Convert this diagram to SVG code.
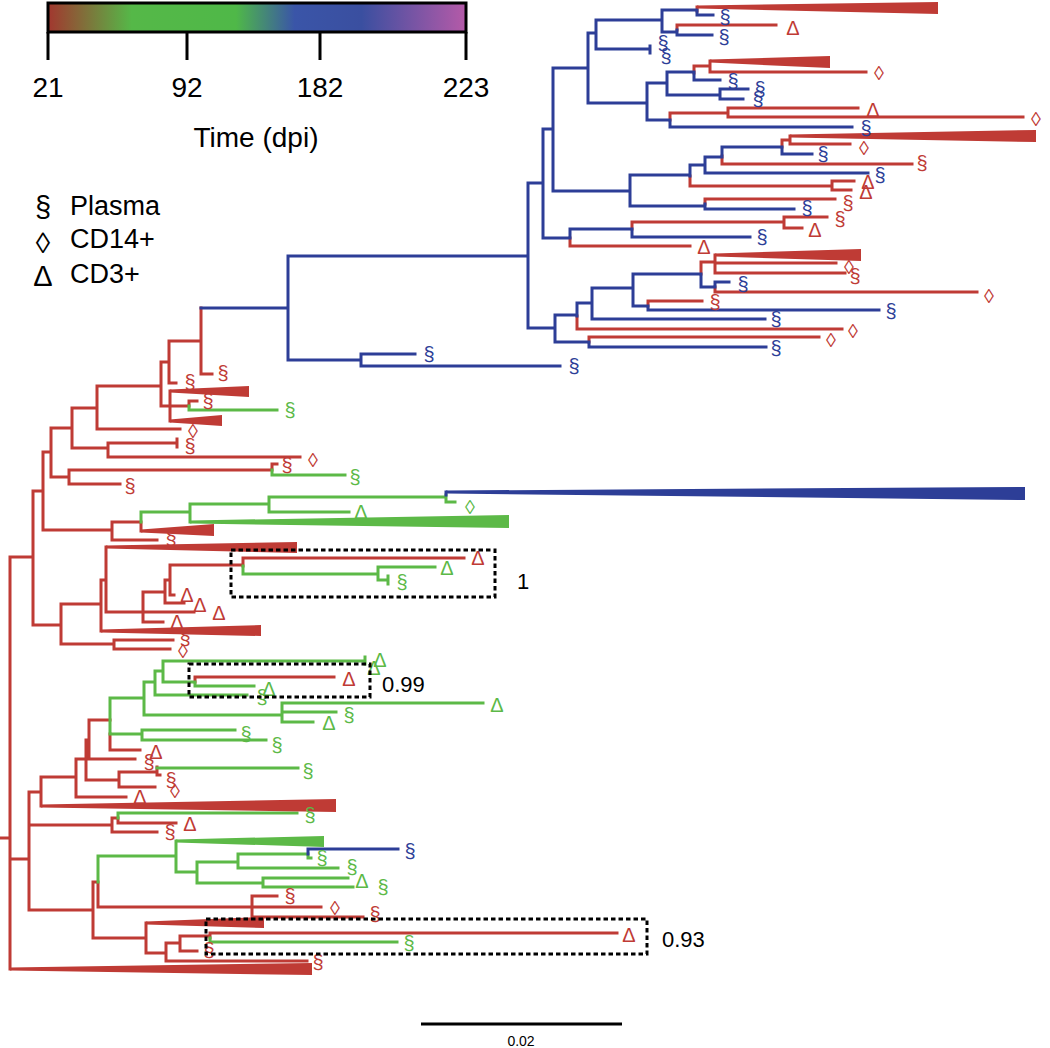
<svg xmlns="http://www.w3.org/2000/svg" width="1050" height="1048" viewBox="0 0 1050 1048">
<style>
.br{fill:none;stroke-width:3;stroke-linecap:square}
.r{stroke:#bf3b35}.g{stroke:#5cb947}.b{stroke:#2d3e97}
.fr{fill:#bf3b35}.fg{fill:#5cb947}.fb{fill:#2d3e97}
text{font-family:"Liberation Sans",Arial,sans-serif}
.t{font-size:20px;text-anchor:middle}
.leg{font-size:27px;fill:#000}
.sym{font-size:29px;fill:#000;text-anchor:middle}
.tick{font-size:28px;text-anchor:middle;fill:#000}
.sup{font-size:22px;fill:#000}
.box{fill:none;stroke:#000;stroke-width:3;stroke-dasharray:4.5 3}
</style>
<defs>
<linearGradient id="tg" x1="0" x2="1" y1="0" y2="0">
<stop offset="0" stop-color="#a2372f"/>
<stop offset="0.2" stop-color="#55b848"/>
<stop offset="0.45" stop-color="#4fb848"/>
<stop offset="0.59" stop-color="#3a55a8"/>
<stop offset="0.75" stop-color="#3a4fa0"/>
<stop offset="1" stop-color="#b55aa8"/>
</linearGradient>
</defs>
<rect width="1050" height="1048" fill="#fff"/>

<g id="colorbar">
<rect x="48" y="3" width="418" height="29" fill="url(#tg)" stroke="#000" stroke-width="3"/>
<path d="M48 32V60M187 32V60M320 32V60M466 32V60" stroke="#000" stroke-width="3" fill="none"/>
<text class="tick" x="48" y="97">21</text>
<text class="tick" x="187" y="97">92</text>
<text class="tick" x="320" y="97">182</text>
<text class="tick" x="466" y="97">223</text>
<text class="tick" x="256" y="147">Time (dpi)</text>
</g>

<g id="legend">
<text class="sym" x="43" y="217">§</text><text class="leg" x="70" y="215">Plasma</text>
<text class="sym" x="43" y="253">◊</text><text class="leg" x="70" y="248">CD14+</text>
<text class="sym" x="43" y="286">Δ</text><text class="leg" x="70" y="283">CD3+</text>
</g>

<g id="connectors">
<path class="br r" d="M0 838H10M10 557V969M10 557H33M10 859H29M33 491V625M33 491H43M33 625H61M43 452V530M43 452H51M43 530H112M51 428V477M51 428H72M51 477H69M72 408V448M72 408H97M72 448H108M97 386V429M97 386H161M97 429H180M161 362V406M161 362H169M161 406H170M169 341V383M169 341H201M169 383H176M201 308V374M201 374H212M170 391V421M170 406H189M189 401V406M189 401H197M108 443V457M108 443H177M177 439V447M108 457H300M69 470V484M69 470H272M69 484H120M272 464V470M272 464H277M112 522V540M112 522H141M112 540H157M141 522V531M61 604V644M61 604H101M61 644H114M101 580V631M101 580H106M106 547V612M106 612H194M143 592V622M143 592H165M143 622H163M165 580V603M165 580H170M165 603H184M170 565V595M170 565H243M170 595H174M243 558V566M243 558H464M114 640V649M114 640H173M114 649H170M29 792V910M29 792H41M29 825H112M29 910H93M41 777V806M41 777H76M76 759V797M76 759H86M76 797H126M86 740V780M86 740H89M86 780H119M89 720V759M89 720H110M89 759H135M110 734V750M110 750H140M195 677V682M195 677H334M119 772V787M119 772H157M119 787H155M157 767V775M157 775H160M112 818V832M112 818H118M112 832H157M118 818V823M118 823H176M93 882V938M93 882H98M93 938H146M98 882V907M98 907H321M252 896V917M252 896H277M252 917H363M146 923V953M146 953H166M166 943V961M166 943H180M166 961H307M180 936V951M180 936H210M180 951H197M210 933V938M210 933H617M697 7V11M677 25V30M677 25H776M694 66V73M694 66H710M710 61V72M710 72H866M670 113V120M670 113H728M728 108V117M728 108H858M728 117H1023M722 156V164M722 164H912M782 140V147M782 140H790M790 136V144M790 144H850M690 176V186M690 186H832M832 181V190M832 181H854M832 190H851M705 199V204M705 199H835M570 238V246M570 246H690M632 222V229M632 222H784M784 217V228M784 217H827M784 228H802M589 337V342M589 337H819M577 316V329M577 329H842M648 301V306M648 301H702M701 262V274M701 262H715M715 255V273M715 263H836M715 273H845M715 287V292M715 292H977"/>
<path class="br g" d="M189 406V410M189 410H277M272 470V475M272 475H345M141 512V522M141 512H190M190 504V522M190 504H269M269 497V512M269 497H446M269 512H349M446 495V502M446 502H455M243 566V574M243 574H378M378 567V580M378 567H435M378 580H388M388 576V584M110 698V734M110 698H144M110 734H142M142 730V740M142 730H235M142 740H266M144 682V715M144 682H155M144 715H282M155 671V695M155 671H163M155 695H247M163 661V682M163 661H365M365 657V664M163 682H195M195 682V686M195 686H254M282 703V722M282 703H483M282 712H336M282 722H313M157 768H298M118 813V818M118 813H297M98 856V882M98 856H176M176 841V872M176 872H197M197 862V883M197 862H238M197 883H263M238 854V868M238 854H308M238 868H338M308 854V858M308 858H311M263 878V887M263 878H348M263 887H353M210 938V942M210 942H397"/>
<path class="br b" d="M201 308H288M288 256V360M288 256H528M288 360H361M361 354V366M361 354H415M361 366H560M528 183V328M528 183H543M528 328H555M543 129V238M543 129H553M543 238H570M553 68V191M553 68H588M553 191H630M588 33V103M588 33H596M588 103H647M596 20V49M596 20H662M596 49H650M650 46V53M662 10V32M662 10H697M662 32H677M697 11V15M697 15H713M677 30V35M677 35H712M647 83V120M647 83H667M647 120H670M667 72V95M667 72H694M667 95H720M694 73V80M694 80H720M720 89V99M720 89H748M720 99H743M670 120V127M670 127H852M630 175V206M630 175H690M630 206H705M690 165V176M690 165H705M705 157V173M705 157H722M705 173H868M722 147V156M722 147H782M782 147V154M782 154H812M705 204V209M705 209H794M570 229V238M570 229H632M632 229V237M632 237H750M555 315V342M555 315H577M555 342H589M589 342V347M589 347H766M577 303V316M577 303H592M592 288V319M592 288H633M592 319H765M633 274V306M633 274H701M633 306H648M648 306V310M648 310H879M701 274V287M701 287H715M715 282V287M715 282H729M446 492V495M308 849V854M308 849H398"/>
</g>

<g id="clades">
<polygon id="w1" class="fr" points="697,5.5 938,2 938,14 697,8.5"/>
<polygon id="w2" class="fr" points="710,59.5 830,56 830,68 710,62.5"/>
<polygon id="w3" class="fr" points="790,134.5 1036,130 1036,142 790,137.5"/>
<polygon id="w4" class="fr" points="715,253.5 861,249 861,261 715,256.5"/>
<polygon id="w5" class="fb" points="446,490.5 1025,487 1025,500 446,493.5"/>
<polygon id="w6" class="fg" points="190,520.5 509,515 509,528 190,523.5"/>
<polygon id="w7" class="fr" points="141,529.5 214,524 214,536 141,532.5"/>
<polygon id="w8" class="fr" points="106,545.5 297,542 297,553 106,548.5"/>
<polygon id="w9" class="fr" points="101,629.5 261,625 261,636 101,632.5"/>
<polygon id="w10" class="fr" points="170,389.5 249,386 249,397 170,392.5"/>
<polygon id="w11" class="fr" points="170,419.5 222,415 222,426 170,422.5"/>
<polygon id="w12" class="fr" points="41,804.5 336,799 336,812 41,807.5"/>
<polygon id="w13" class="fg" points="176,839.5 324,836 324,847 176,842.5"/>
<polygon id="w14" class="fr" points="146,921.5 264,917 264,928 146,924.5"/>
<polygon id="w15" class="fr" points="10,967.5 312,963 312,975 10,970.5"/>
</g>

<g id="tips">
<text class="t fb" x="725" y="24">§</text>
<text class="t fr" x="793" y="35">Δ</text>
<text class="t fb" x="724" y="44">§</text>
<text class="t fb" x="663" y="50">§</text>
<text class="t fb" x="666" y="63">§</text>
<text class="t fr" x="879" y="80">◊</text>
<text class="t fb" x="733" y="88">§</text>
<text class="t fb" x="760" y="96">§</text>
<text class="t fb" x="758" y="106">§</text>
<text class="t fr" x="873" y="117">Δ</text>
<text class="t fr" x="1036" y="126">◊</text>
<text class="t fb" x="866" y="135">§</text>
<text class="t fr" x="864" y="155">◊</text>
<text class="t fb" x="823" y="161">§</text>
<text class="t fr" x="922" y="170">§</text>
<text class="t fb" x="880" y="182">§</text>
<text class="t fr" x="868" y="189">Δ</text>
<text class="t fr" x="866" y="199">Δ</text>
<text class="t fr" x="848" y="210">§</text>
<text class="t fb" x="807" y="215">§</text>
<text class="t fr" x="840" y="226">§</text>
<text class="t fr" x="815" y="237">Δ</text>
<text class="t fb" x="762" y="244">§</text>
<text class="t fr" x="704" y="254">Δ</text>
<text class="t fr" x="849" y="274">◊</text>
<text class="t fr" x="855" y="283">§</text>
<text class="t fb" x="743" y="291">§</text>
<text class="t fr" x="989" y="303">◊</text>
<text class="t fr" x="715" y="309">§</text>
<text class="t fb" x="891" y="318">§</text>
<text class="t fb" x="776" y="326">§</text>
<text class="t fr" x="853" y="338">◊</text>
<text class="t fr" x="831" y="347">◊</text>
<text class="t fb" x="776" y="355">§</text>
<text class="t fb" x="429" y="361">§</text>
<text class="t fb" x="574" y="373">§</text>
<text class="t fr" x="223" y="380">§</text>
<text class="t fr" x="190" y="389">§</text>
<text class="t fr" x="208" y="408">§</text>
<text class="t fg" x="290" y="417">§</text>
<text class="t fr" x="193" y="438">◊</text>
<text class="t fr" x="190" y="453">§</text>
<text class="t fr" x="313" y="467">◊</text>
<text class="t fr" x="287" y="472">§</text>
<text class="t fg" x="355" y="484">§</text>
<text class="t fr" x="130" y="493">§</text>
<text class="t fg" x="470" y="514">◊</text>
<text class="t fg" x="361" y="519">Δ</text>
<text class="t fr" x="171" y="545">§</text>
<text class="t fr" x="478" y="565">Δ</text>
<text class="t fg" x="447" y="575">Δ</text>
<text class="t fg" x="402" y="589">§</text>
<text class="t fr" x="187" y="602">Δ</text>
<text class="t fr" x="200" y="612">Δ</text>
<text class="t fr" x="219" y="620">Δ</text>
<text class="t fr" x="177" y="629">Δ</text>
<text class="t fr" x="185" y="645">§</text>
<text class="t fr" x="183" y="658">◊</text>
<text class="t fg" x="380" y="667">Δ</text>
<text class="t fg" x="374" y="675">Δ</text>
<text class="t fr" x="349" y="686">Δ</text>
<text class="t fg" x="269" y="696">Δ</text>
<text class="t fg" x="262" y="704">§</text>
<text class="t fg" x="497" y="712">Δ</text>
<text class="t fg" x="349" y="722">§</text>
<text class="t fg" x="329" y="730">Δ</text>
<text class="t fg" x="246" y="741">§</text>
<text class="t fg" x="277" y="752">§</text>
<text class="t fr" x="156" y="759">Δ</text>
<text class="t fr" x="149" y="769">§</text>
<text class="t fg" x="308" y="778">§</text>
<text class="t fr" x="171" y="787">§</text>
<text class="t fr" x="175" y="798">◊</text>
<text class="t fr" x="140" y="804">Δ</text>
<text class="t fg" x="310" y="822">§</text>
<text class="t fr" x="190" y="831">Δ</text>
<text class="t fr" x="170" y="839">§</text>
<text class="t fb" x="410" y="858">§</text>
<text class="t fg" x="322" y="865">§</text>
<text class="t fg" x="352" y="874">§</text>
<text class="t fg" x="362" y="888">Δ</text>
<text class="t fg" x="383" y="894">§</text>
<text class="t fr" x="290" y="903">§</text>
<text class="t fr" x="335" y="915">◊</text>
<text class="t fr" x="375" y="921">§</text>
<text class="t fr" x="629" y="942">Δ</text>
<text class="t fg" x="409" y="950">§</text>
<text class="t fr" x="209" y="957">§</text>
<text class="t fr" x="318" y="969">§</text>
</g>

<g id="support">
<rect class="box" x="231" y="550" width="264" height="47"/>
<text class="sup" x="517" y="589">1</text>
<rect class="box" x="189" y="664" width="181" height="33"/>
<text class="sup" x="382" y="692">0.99</text>
<rect class="box" x="206" y="919" width="441" height="35"/>
<text class="sup" x="662" y="947">0.93</text>
</g>

<g id="scalebar">
<path d="M421 1024H622" stroke="#000" stroke-width="3"/>
<text x="521" y="1046" font-size="14" text-anchor="middle" fill="#000">0.02</text>
</g>
</svg>
